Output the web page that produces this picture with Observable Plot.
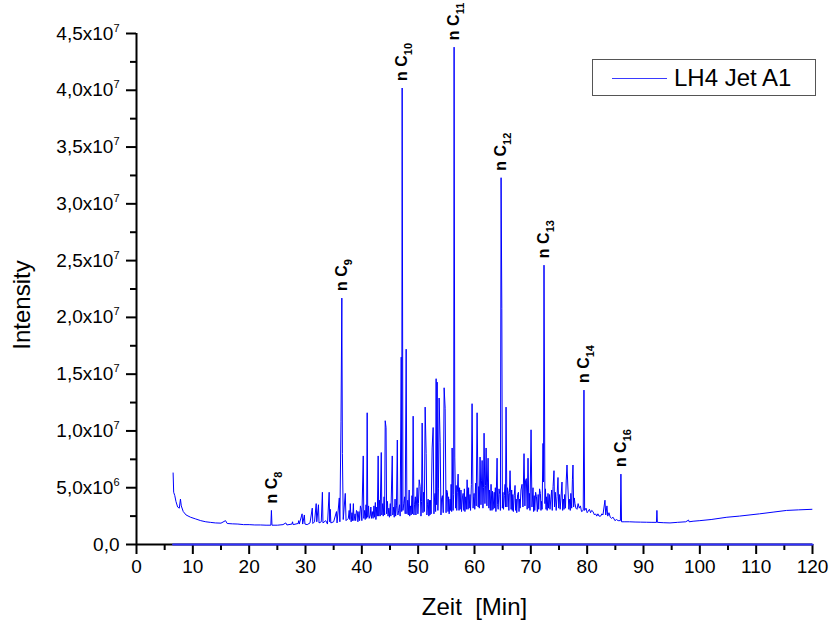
<!DOCTYPE html>
<html>
<head>
<meta charset="utf-8">
<script src="https://cdn.jsdelivr.net/npm/d3@7"></script>
<script src="https://cdn.jsdelivr.net/npm/@observablehq/plot@0.6"></script>
<style>
  html, body { margin: 0; padding: 0; background: #ffffff; }
  #chart { position: relative; width: 829px; height: 625px; font-family: "Liberation Sans", Arial, sans-serif; }
  #legend { position: absolute; left: 592px; top: 59px; width: 224px; height: 37px; box-sizing: border-box;
            border: 1.5px solid #555; background: #fff; }
  #legend .swatch { position: absolute; left: 19px; top: 18px; width: 55px; border-top: 1px solid #3a3aff; }
  #legend .label { position: absolute; left: 81px; top: 4px; font-size: 24px; line-height: 28px; color: #000; }
</style>
</head>
<body>
<div id="chart"></div>
<script>
// ---------- data ----------
const serienName = "LH4 Jet A1";

// chromatogram: [Zeit in Min, Intensität in 10^6]
const chromatogramm = [
  [6.5, 6.3], [6.6, 4.6], [6.8, 4.3], [7.0, 3.8], [7.3, 3.3], [7.6, 3.2], [7.8, 4.0], [7.95, 3.4],
  [8.3, 2.9], [8.8, 2.6], [9.6, 2.4], [10.5, 2.25], [11.4, 2.1], [12.3, 2.0], [13.1, 1.95], [14.0, 1.9],
  [15.0, 1.88], [15.8, 2.1], [16.1, 1.85], [17.0, 1.82], [18.0, 1.8], [19.0, 1.75], [20.0, 1.75],
  [21.0, 1.72], [22.0, 1.72], [23.0, 1.7], [23.85, 1.7], [23.95, 3.0], [24.05, 1.7], [25.0, 1.7],
  [26.0, 1.75], [26.5, 1.9], [26.7, 1.72], [27.6, 1.8], [27.7, 2.0], [27.8, 1.75], [28.7, 1.85],
  [28.8, 2.1], [28.9, 1.8], [29.4, 2.7], [29.5, 1.8], [29.8, 2.6], [29.9, 1.8], [30.3, 1.75],
  [30.8, 1.9], [31.2, 3.2], [31.3, 1.85], [31.6, 2.0], [31.9, 3.6], [32.0, 2.0], [32.3, 3.5],
  [32.4, 1.9], [32.8, 2.0], [33.0, 4.6], [33.1, 1.9], [33.6, 2.1], [33.9, 1.8], [34.2, 4.6],
  [34.3, 2.0], [34.4, 3.1], [34.5, 1.9], [35.0, 2.0], [35.5, 2.9], [35.6, 1.9], [36.0, 4.1],
  [36.1, 2.0], [36.3, 10.8], [36.45, 21.7], [36.55, 8.0], [36.7, 2.2], [37.06, 4.5], [37.2, 2.1],
  [37.6, 2.3], [37.75, 3.0], [37.85, 2.2], [37.95, 3.6], [38.1, 2.0], [38.25, 2.8], [38.35, 2.1],
  [38.5, 3.6], [38.6, 2.1], [38.8, 2.7], [38.9, 2.1], [39.05, 3.0], [39.2, 2.9], [39.3, 2.0],
  [39.5, 2.9], [39.6, 2.1], [39.75, 3.4], [39.9, 3.1], [40.0, 2.1], [40.25, 7.8], [40.35, 2.3],
  [40.5, 3.0], [40.6, 2.2], [40.75, 3.5], [40.85, 2.3], [40.95, 11.6], [41.05, 2.4], [41.2, 3.4],
  [41.3, 2.3], [41.5, 2.6], [41.6, 3.3], [41.7, 2.3], [41.85, 2.9], [42.0, 2.3], [42.15, 3.4],
  [42.25, 2.4], [42.4, 3.7], [42.5, 2.2], [42.65, 3.3], [42.75, 2.5], [42.9, 7.8], [43.0, 2.5],
  [43.15, 3.9], [43.25, 2.5], [43.45, 8.1], [43.55, 2.6], [43.7, 3.6], [43.8, 2.5], [43.95, 4.2],
  [44.05, 2.6], [44.15, 10.9], [44.3, 10.3], [44.4, 2.7], [44.55, 3.8], [44.65, 2.5], [44.8, 3.2],
  [44.9, 2.4], [45.05, 3.6], [45.15, 2.5], [45.4, 7.8], [45.5, 2.6], [45.65, 3.3], [45.75, 2.4],
  [45.9, 4.0], [46.0, 2.5], [46.15, 3.4], [46.3, 9.2], [46.4, 2.6], [46.55, 3.0], [46.7, 3.5],
  [46.8, 2.5], [46.99, 16.5], [47.08, 2.9], [47.16, 40.2], [47.3, 3.0], [47.45, 3.6], [47.6, 4.2],
  [47.7, 2.7], [47.87, 17.2], [48.0, 2.7], [48.15, 3.9], [48.25, 2.6], [48.4, 4.8], [48.5, 2.5],
  [48.65, 3.4], [48.75, 2.6], [48.9, 4.3], [49.0, 2.7], [49.11, 11.3], [49.25, 2.6], [49.35, 3.5],
  [49.5, 4.2], [49.6, 2.6], [49.82, 5.0], [49.95, 2.7], [50.05, 3.6], [50.18, 5.7], [50.35, 5.1],
  [50.5, 2.5], [50.6, 3.8], [50.71, 10.7], [50.85, 2.8], [50.95, 4.6], [51.1, 2.9], [51.24, 12.1],
  [51.42, 8.0], [51.55, 2.6], [51.65, 3.5], [51.77, 4.0], [51.9, 2.5], [52.0, 3.9], [52.1, 2.6],
  [52.2, 3.9], [52.3, 2.7], [52.48, 8.5], [52.66, 10.3], [52.8, 2.7], [52.9, 4.1], [53.0, 4.5],
  [53.1, 2.9], [53.19, 14.6], [53.28, 3.5], [53.37, 14.3], [53.5, 3.0], [53.6, 4.9], [53.72, 12.9],
  [53.9, 9.0], [54.05, 2.6], [54.15, 4.0], [54.3, 4.3], [54.45, 2.8], [54.61, 13.8], [54.79, 12.0],
  [54.95, 2.8], [55.05, 4.8], [55.2, 4.6], [55.3, 2.9], [55.4, 4.2], [55.5, 2.7], [55.67, 4.0],
  [55.75, 3.0], [55.85, 5.3], [55.95, 2.9], [56.03, 8.5], [56.2, 3.0], [56.3, 4.4], [56.38, 43.8],
  [56.5, 7.7], [56.65, 3.2], [56.75, 5.2], [56.85, 3.0], [56.95, 4.6], [57.09, 6.2], [57.25, 3.0],
  [57.35, 5.0], [57.45, 3.1], [57.6, 4.8], [57.7, 2.9], [57.85, 4.1], [57.98, 4.5], [58.1, 3.0],
  [58.2, 4.9], [58.3, 2.9], [58.45, 4.2], [58.55, 3.1], [58.69, 5.7], [58.85, 3.1], [58.95, 5.0],
  [59.05, 3.2], [59.2, 4.4], [59.3, 3.0], [59.45, 5.3], [59.57, 12.4], [59.75, 3.2], [59.85, 4.2],
  [59.93, 4.5], [60.05, 3.1], [60.2, 5.4], [60.3, 3.4], [60.46, 11.6], [60.65, 3.3], [60.75, 5.1],
  [60.85, 3.2], [60.99, 7.7], [61.15, 3.5], [61.25, 5.6], [61.35, 7.4], [61.5, 3.2], [61.6, 5.0],
  [61.7, 9.8], [61.85, 3.6], [61.95, 5.2], [62.06, 8.5], [62.2, 3.4], [62.3, 5.5], [62.41, 7.6],
  [62.55, 3.2], [62.65, 4.8], [62.8, 3.0], [62.94, 5.3], [63.1, 3.0], [63.2, 4.7], [63.3, 3.1],
  [63.5, 4.6], [63.6, 3.2], [63.7, 5.0], [63.8, 2.9], [64.01, 7.6], [64.1, 3.5], [64.2, 3.1],
  [64.35, 4.9], [64.5, 4.4], [64.6, 3.0], [64.72, 32.3], [64.85, 20.8], [64.95, 3.2], [65.05, 4.6],
  [65.15, 3.1], [65.3, 4.3], [65.43, 5.3], [65.5, 3.3], [65.6, 12.1], [65.75, 3.3], [65.85, 5.0],
  [66.0, 4.5], [66.1, 3.0], [66.2, 4.6], [66.31, 6.5], [66.5, 3.1], [66.6, 4.8], [66.7, 3.0],
  [66.8, 4.4], [66.9, 2.9], [67.05, 4.3], [67.2, 5.2], [67.3, 3.0], [67.4, 4.0], [67.5, 2.8],
  [67.65, 4.4], [67.8, 4.6], [67.9, 2.9], [68.0, 4.0], [68.1, 3.2], [68.25, 4.8], [68.44, 5.3],
  [68.6, 3.3], [68.79, 8.0], [68.95, 3.4], [69.05, 5.6], [69.2, 5.8], [69.35, 3.1], [69.5, 7.6],
  [69.65, 3.2], [69.75, 4.5], [69.85, 3.0], [70.04, 10.1], [70.2, 3.3], [70.39, 5.0], [70.5, 2.9],
  [70.6, 4.3], [70.7, 3.0], [70.85, 4.6], [71.0, 4.2], [71.15, 2.9], [71.3, 4.4], [71.4, 3.1],
  [71.55, 4.9], [71.7, 4.5], [71.8, 3.0], [71.9, 3.8], [72.0, 3.1], [72.16, 8.9], [72.25, 5.5],
  [72.34, 24.6], [72.5, 3.6], [72.6, 4.9], [72.7, 3.1], [72.8, 4.2], [72.9, 3.0], [73.05, 4.5],
  [73.15, 3.2], [73.3, 4.4], [73.4, 3.1], [73.55, 4.0], [73.7, 4.8], [73.8, 3.0], [73.95, 5.1],
  [74.11, 6.5], [74.2, 3.3], [74.35, 4.6], [74.5, 3.0], [74.65, 4.2], [74.82, 5.9], [74.95, 3.2],
  [75.1, 4.4], [75.2, 3.1], [75.35, 4.1], [75.53, 5.5], [75.65, 3.0], [75.8, 4.0], [75.9, 3.1],
  [76.0, 4.4], [76.15, 3.2], [76.28, 5.6], [76.42, 7.0], [76.6, 4.8], [76.75, 3.1], [76.9, 4.0],
  [77.0, 3.0], [77.1, 4.5], [77.25, 3.2], [77.38, 5.7], [77.48, 7.0], [77.6, 3.3], [77.72, 4.1],
  [77.84, 3.6], [78.0, 3.2], [78.2, 3.1], [78.4, 3.6], [78.6, 3.2], [78.8, 3.4], [79.0, 2.9],
  [79.3, 3.0], [79.43, 13.6], [79.55, 3.0], [79.8, 3.2], [80.0, 2.8], [80.14, 2.9], [80.4, 3.1],
  [80.6, 2.8], [80.8, 3.0], [81.03, 2.9], [81.3, 2.6], [81.5, 2.7], [81.7, 2.5], [81.91, 2.7],
  [82.1, 2.5], [82.4, 2.5], [82.6, 2.7], [82.8, 2.6], [83.16, 3.9], [83.3, 2.6], [83.51, 3.4],
  [83.65, 2.5], [83.87, 2.8], [84.1, 2.4], [84.3, 2.3], [84.6, 2.4], [84.93, 2.1], [85.2, 2.2],
  [85.5, 2.1], [85.9, 2.1], [85.99, 6.2], [86.1, 2.0], [86.7, 2.0], [87.5, 2.0],
  [88.5, 1.98], [89.5, 1.97], [90.5, 1.96], [91.5, 1.95], [92.3, 1.95], [92.38, 3.0], [92.46, 1.95],
  [93.5, 1.92], [94.7, 1.9], [96.0, 1.95], [97.5, 2.0], [98.0, 2.15], [98.1, 2.0], [98.8, 2.05],
  [100.0, 2.1], [102.0, 2.2], [104.8, 2.4], [107.0, 2.5], [110.6, 2.7], [113.0, 2.85], [115.4, 3.0],
  [117.5, 3.05], [119.9, 3.1]
];

// second trace lying on the zero line
const nullLinie = [[6.5, 0], [120, 0]];

// labelled n-alkane peaks
const peakZeit = [23.95, 36.45, 47.16, 56.38, 64.72, 72.34, 79.43, 85.99];
const peakIntensitaet = [3.0, 21.7, 40.2, 43.8, 32.3, 24.6, 13.6, 6.2]; // 10^6
const peakNamen = ["n C_8", "n C_9", "n C_10", "n C_11", "n C_12", "n C_13", "n C_14", "n C_16"];

// axes
const xMajor = [0, 10, 20, 30, 40, 50, 60, 70, 80, 90, 100, 110, 120];
const xMinor = [5, 15, 25, 35, 45, 55, 65, 75, 85, 95, 105, 115];
const yMajor = [0, 5e6, 1e7, 1.5e7, 2e7, 2.5e7, 3e7, 3.5e7, 4e7, 4.5e7];
const yMinor = [2.5e6, 7.5e6, 1.25e7, 1.75e7, 2.25e7, 2.75e7, 3.25e7, 3.75e7, 4.25e7];
const yTickLabels = ["0,0", "5,0x10^6", "1,0x10^7", "1,5x10^7", "2,0x10^7", "2,5x10^7", "3,0x10^7", "3,5x10^7", "4,0x10^7", "4,5x10^7"];
const xTitel = "Zeit\u00a0 [Min]";
const yTitel = "Intensity";

// ---------- chart ----------
const peaks = peakZeit.map((t, i) => ({t, I: peakIntensitaet[i] * 1e6, name: peakNamen[i]}));
const font = "'Liberation Sans', Arial, sans-serif";

const svg = Plot.plot({
  width: 829,
  height: 625,
  marginLeft: 136,
  marginRight: 17,
  marginTop: 33,
  marginBottom: 81,
  style: {fontFamily: font, background: "#ffffff", color: "#000"},
  x: {domain: [0, 120], axis: null},
  y: {domain: [0, 4.5e7], axis: null},
  marks: [
    Plot.axisX(xMajor, {tickSize: 10, strokeWidth: 2, tickPadding: 5, fontSize: 19, tickFormat: d => String(d), label: null}),
    Plot.axisX(xMinor, {tickSize: 6, strokeWidth: 2, tickFormat: () => "", label: null}),
    Plot.axisY(yMajor, {tickSize: 10, strokeWidth: 2, tickPadding: 7, fontSize: 19,
      tickFormat: d => yTickLabels[yMajor.indexOf(d)], label: null}),
    Plot.axisY(yMinor, {tickSize: 6, strokeWidth: 2, tickFormat: () => "", label: null}),
    Plot.ruleX([0], {stroke: "#000", strokeWidth: 2}),
    Plot.ruleY([0], {stroke: "#000", strokeWidth: 2}),
    Plot.line(nullLinie, {x: d => d[0], y: d => d[1], stroke: "#3030ff", strokeWidth: 2}),
    Plot.line(chromatogramm, {x: d => d[0], y: d => d[1] * 1e6, stroke: "#0000ff", strokeWidth: 1}),
    Plot.text(peaks, {x: "t", y: "I", text: "name", rotate: -90, textAnchor: "start", dy: -7,
      fontSize: 16, fontWeight: "bold", fill: "#000"}),
    Plot.text([xTitel], {frameAnchor: "bottom", textAnchor: "middle", lineAnchor: "middle", dy: 63, fontSize: 24, fill: "#000"}),
    Plot.text([yTitel], {frameAnchor: "left", textAnchor: "middle", lineAnchor: "middle", dx: -114, dy: 16, rotate: -90, fontSize: 24, fill: "#000"})
  ]
});

// superscripts / subscripts as real text
const NS = "http://www.w3.org/2000/svg";
svg.querySelectorAll("text").forEach(t => {
  const s = t.textContent;
  let m = s.match(/^(.*x10)\^(\d+)$/);
  if (m) {
    t.textContent = m[1];
    const ts = document.createElementNS(NS, "tspan");
    ts.setAttribute("dy", "-8");
    ts.setAttribute("font-size", "11");
    ts.textContent = m[2];
    t.appendChild(ts);
    return;
  }
  m = s.match(/^(n C)_(\d+)$/);
  if (m) {
    t.textContent = m[1];
    const ts = document.createElementNS(NS, "tspan");
    ts.setAttribute("dy", "5");
    ts.setAttribute("font-size", "11");
    ts.textContent = m[2];
    t.appendChild(ts);
  }
});

const chart = document.getElementById("chart");
chart.appendChild(svg);

const legend = document.createElement("div");
legend.id = "legend";
legend.innerHTML = `<div class="swatch"></div><div class="label"></div>`;
legend.querySelector(".label").textContent = serienName;
chart.appendChild(legend);
</script>
</body>
</html>
